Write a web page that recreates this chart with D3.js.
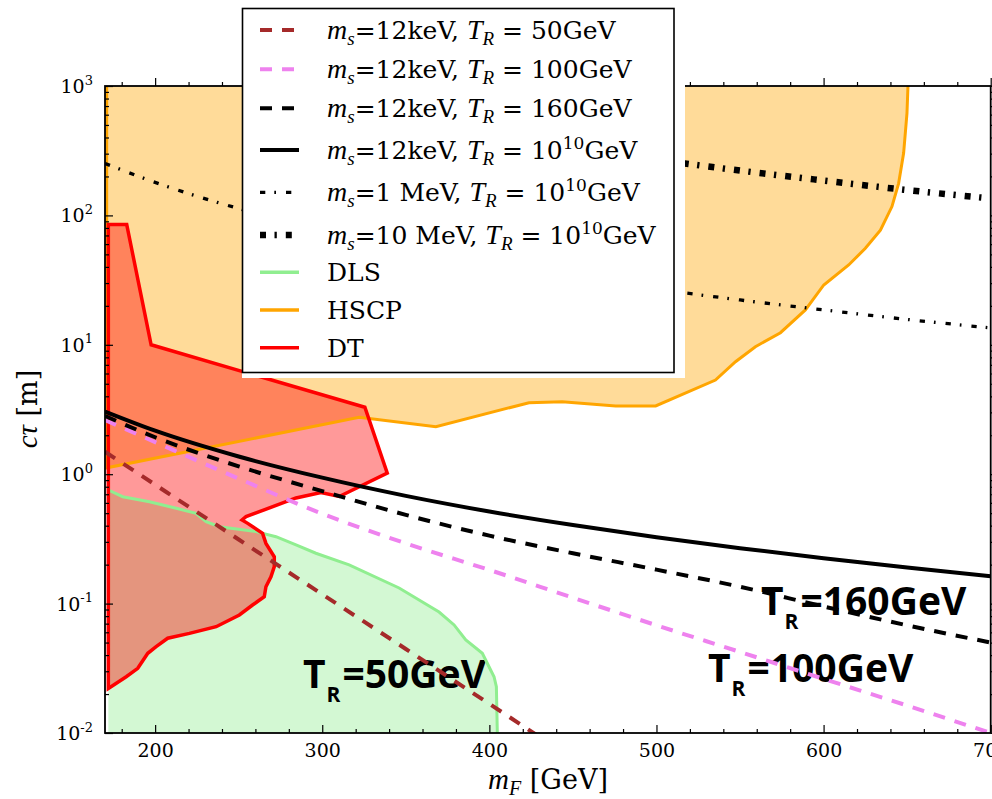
<!DOCTYPE html>
<html>
<head>
<meta charset="utf-8">
<script src="https://cdn.jsdelivr.net/npm/d3@7"></script>
<style>
  body { margin: 0; background: #ffffff; }
  svg { display: block; }
  text { white-space: pre; }
</style>
</head>
<body>
<svg id="chart" width="992" height="799"></svg>
<script>
// ---- data: lifetime c*tau [m] versus fermion mass m_F [GeV] ----
const massGrid = [170, 200, 250, 300, 350, 400, 450, 500, 550, 600, 650, 700];
const massGridTR50 = [170, 200, 250, 300, 350, 400, 450];

const ctau12keV_TR50   = [1.49, 0.83, 0.313, 0.118, 0.0446, 0.0168, 0.0063];
const ctau12keV_TR100  = [2.62, 1.77, 0.925, 0.495, 0.292, 0.182, 0.111, 0.068, 0.0423, 0.0262, 0.0163, 0.0100];
const ctau12keV_TR160  = [2.82, 1.93, 1.15, 0.74, 0.485, 0.335, 0.245, 0.183, 0.135, 0.095, 0.068, 0.050];
const ctau12keV_TR1e10 = [3.05, 2.17, 1.37, 0.94, 0.68, 0.515, 0.405, 0.326, 0.268, 0.224, 0.190, 0.163];
const ctau1MeV_TR1e10  = [252, 180, 113, 78, 56.6, 42.9, 33.6, 27.0, 22.2, 18.6, 15.7, 13.5];
const ctau10MeV_TR1e10 = [2520, 1800, 1130, 780, 566, 429, 336, 270, 222, 186, 157, 135];

// excluded regions: [m_F, c*tau] boundary points
const dlsBoundary = [[172, 0.755], [180.6, 0.67], [196.6, 0.612], [212.6, 0.545], [224.5, 0.499],
  [230.5, 0.43], [238.4, 0.393], [260.4, 0.36], [272.3, 0.329], [284.3, 0.284], [296.2, 0.245],
  [316.1, 0.199], [346, 0.132], [369.9, 0.0861], [378.9, 0.0684], [385.9, 0.0524], [395.8, 0.0413],
  [399.8, 0.0325], [402.8, 0.0272], [404.2, 0.0228], [404.8, 0.0095]];
const dlsFloor = [[172, 0.0095]];

const hscpBoundary = [[171, 1200], [650.5, 1200], [650.5, 1000], [649.9, 618], [647.9, 303], [644.9, 177],
  [640.9, 117], [634, 77], [625, 55.7], [615, 41.4], [600.1, 29], [589.1, 18.6], [574.2, 12.4],
  [559.2, 9.67], [547.3, 7.4], [535.3, 5.34], [499.5, 3.37], [475.6, 3.37], [443.6, 3.63],
  [423.7, 3.57], [368, 2.33], [322.1, 2.75], [171, 1.12]];

const dtBoundary = [[172, 85], [183, 85], [197.6, 10], [325.5, 3.29], [338.9, 1.02], [310.2, 0.673],
  [299.2, 0.72], [284.3, 0.655], [254.4, 0.47], [252, 0.443], [255.4, 0.417], [264.3, 0.349],
  [266.3, 0.292], [271.3, 0.23], [271.3, 0.193], [269.3, 0.161], [266.3, 0.135], [265.3, 0.113],
  [258.3, 0.0975], [250.4, 0.0817], [236.5, 0.0663], [220.5, 0.0589], [207.5, 0.054], [200.6, 0.0465],
  [195.6, 0.0413], [189.6, 0.0316], [182.7, 0.0272], [172, 0.0221]];

const xMajorTicks = [200, 300, 400, 500, 600, 700];
const xMinorTicks = d3.range(180, 701, 20).filter(v => v % 100 !== 0);
const yMajorTicks = [1e-2, 1e-1, 1e0, 1e1, 1e2, 1e3];
const yExponents = ["-2", "-1", "0", "1", "2", "3"];
const annotations = [
  { m: "T", s: "R", rest: "=50GeV",  mass: 290.1, px: 303, py: 688 },
  { m: "T", s: "R", rest: "=100GeV", mass: 532.2, px: 708, py: 682 },
  { m: "T", s: "R", rest: "=160GeV", mass: 563.8, px: 761, py: 615 }
];

// ---- layout ----
const plot = { left: 105, right: 990.7, top: 86, bottom: 733 };
const serif = "'DejaVu Serif', serif";
const mathIt = "'Liberation Serif', 'DejaVu Serif', serif";

const x = d3.scaleLinear().domain([170, 700]).range([plot.left, plot.right]);
const y = d3.scaleLog().domain([0.01, 1000]).range([plot.bottom, plot.top]);

const svg = d3.select("#chart");
svg.append("rect").attr("width", 992).attr("height", 799).attr("fill", "#fff");

svg.append("defs").append("clipPath").attr("id", "plotClip")
  .append("rect")
  .attr("x", plot.left).attr("y", plot.top)
  .attr("width", plot.right - plot.left).attr("height", plot.bottom - plot.top);

const layer = svg.append("g").attr("clip-path", "url(#plotClip)");

const poly = d3.line().x(d => x(d[0])).y(d => y(d[1]));
const smooth = d3.line().x(d => x(d[0])).y(d => y(d[1])).curve(d3.curveMonotoneX);

// filled regions (DLS, HSCP, DT)
layer.append("path").attr("d", poly(dlsBoundary.concat(dlsFloor)) + "Z")
  .attr("fill", "#90ee90").attr("fill-opacity", 0.4);
layer.append("path").attr("d", poly(hscpBoundary) + "Z")
  .attr("fill", "#ffa500").attr("fill-opacity", 0.4);
layer.append("path").attr("d", poly(dtBoundary) + "Z")
  .attr("fill", "#ff0000").attr("fill-opacity", 0.4);

// annotations
annotations.forEach(a => {
  const t = layer.append("text")
    .attr("x", a.px).attr("y", a.py)
    .attr("font-family", "'Open Sans', sans-serif").attr("font-weight", 700)
    .attr("font-size", 39).attr("fill", "#000");
  t.append("tspan").text(a.m);
  t.append("tspan").text(a.s).attr("font-size", 21).attr("dy", 14).attr("dx", 1);
  t.append("tspan").text(a.rest).attr("dy", -14).attr("dx", 2);
});

// region edges
layer.append("path").attr("d", poly(dlsBoundary))
  .attr("fill", "none").attr("stroke", "#90ee90").attr("stroke-width", 3);
layer.append("path").attr("d", poly(hscpBoundary) + "Z")
  .attr("fill", "none").attr("stroke", "#ffa500").attr("stroke-width", 3);
layer.append("path").attr("d", poly(dtBoundary) + "Z")
  .attr("fill", "none").attr("stroke", "#ff0000").attr("stroke-width", 3.5)
  .attr("stroke-linejoin", "miter");

// lifetime curves
const series = [
  { masses: massGridTR50, values: ctau12keV_TR50, color: "#a52a2a", width: 4, dash: "12,10",
    label: [["m", "it"], ["s", "itsub"], ["=12keV, "], ["T", "it"], ["R", "itsub"], [" = "], ["50GeV"]] },
  { masses: massGrid, values: ctau12keV_TR100, color: "#ee82ee", width: 4, dash: "12,10",
    label: [["m", "it"], ["s", "itsub"], ["=12keV, "], ["T", "it"], ["R", "itsub"], [" = "], ["100GeV"]] },
  { masses: massGrid, values: ctau12keV_TR160, color: "#000000", width: 4, dash: "12,10",
    label: [["m", "it"], ["s", "itsub"], ["=12keV, "], ["T", "it"], ["R", "itsub"], [" = "], ["160GeV"]] },
  { masses: massGrid, values: ctau12keV_TR1e10, color: "#000000", width: 4, dash: null,
    label: [["m", "it"], ["s", "itsub"], ["=12keV, "], ["T", "it"], ["R", "itsub"], [" = "], ["10"], ["10", "sup"], ["GeV"]] },
  { masses: massGrid, values: ctau1MeV_TR1e10, color: "#000000", width: 3.3, dash: "5.3,9,1.7,10",
    label: [["m", "it"], ["s", "itsub"], ["=1 MeV, "], ["T", "it"], ["R", "itsub"], [" = "], ["10"], ["10", "sup"], ["GeV"]] },
  { masses: massGrid, values: ctau10MeV_TR1e10, color: "#000000", width: 6.5, dash: "6,8.5,2.3,9",
    label: [["m", "it"], ["s", "itsub"], ["=10 MeV, "], ["T", "it"], ["R", "itsub"], [" = "], ["10"], ["10", "sup"], ["GeV"]] }
];

series.forEach(s => {
  const pts = s.masses.map((m, i) => [m, s.values[i]]);
  const p = layer.append("path").attr("d", smooth(pts))
    .attr("fill", "none").attr("stroke", s.color).attr("stroke-width", s.width);
  if (s.dash) p.attr("stroke-dasharray", s.dash);
});

// ---- axes (inward ticks on all four sides) ----
function inward(axis, size) { return axis.tickSizeInner(-size).tickSizeOuter(0); }

const gx = svg.append("g").attr("transform", `translate(0,${plot.bottom})`)
  .call(inward(d3.axisBottom(x).tickValues(xMajorTicks).tickFormat(d3.format("d")), 8).tickPadding(11));
svg.append("g").attr("transform", `translate(0,${plot.bottom})`)
  .call(inward(d3.axisBottom(x).tickValues(xMinorTicks).tickFormat(""), 4));
svg.append("g").attr("transform", `translate(0,${plot.top})`)
  .call(inward(d3.axisTop(x).tickValues(xMajorTicks).tickFormat(""), -8));
svg.append("g").attr("transform", `translate(0,${plot.top})`)
  .call(inward(d3.axisTop(x).tickValues(xMinorTicks).tickFormat(""), -4));

const yMinorTicks = [];
for (let e = -2; e < 3; e++) for (let k = 2; k <= 9; k++) yMinorTicks.push(k * Math.pow(10, e));

svg.append("g").attr("transform", `translate(${plot.left},0)`)
  .call(inward(d3.axisLeft(y).tickValues(yMajorTicks).tickFormat(""), 8));
svg.append("g").attr("transform", `translate(${plot.left},0)`)
  .call(inward(d3.axisLeft(y).tickValues(yMinorTicks).tickFormat(""), 4));
svg.append("g").attr("transform", `translate(${plot.right},0)`)
  .call(inward(d3.axisRight(y).tickValues(yMajorTicks).tickFormat(""), -8));
svg.append("g").attr("transform", `translate(${plot.right},0)`)
  .call(inward(d3.axisRight(y).tickValues(yMinorTicks).tickFormat(""), -4));

// top/right axes: flip tick direction so they point into the plot
svg.selectAll("g").each(function () {});
svg.selectAll(".domain").remove();
svg.selectAll(".tick line").attr("stroke", "#000").attr("stroke-width", 1.2);

gx.selectAll("text").attr("font-family", serif).attr("font-size", 19).attr("fill", "#000");

// y tick labels as powers of ten
yMajorTicks.forEach((v, i) => {
  const t = svg.append("text").attr("x", plot.left - 12).attr("y", y(v) + 7)
    .attr("text-anchor", "end").attr("font-family", serif).attr("font-size", 19).attr("fill", "#000");
  t.append("tspan").text("10");
  t.append("tspan").text(yExponents[i]).attr("font-size", 13).attr("dy", -8.5);
});

// frame
svg.append("rect")
  .attr("x", plot.left).attr("y", plot.top)
  .attr("width", plot.right - plot.left).attr("height", plot.bottom - plot.top)
  .attr("fill", "none").attr("stroke", "#000").attr("stroke-width", 1.8);

// axis titles
const xt = svg.append("text").attr("x", 548).attr("y", 789).attr("text-anchor", "middle")
  .attr("font-family", serif).attr("font-size", 27).attr("fill", "#000");
xt.append("tspan").text("m").attr("font-family", mathIt).attr("font-style", "italic").attr("font-size", 29);
xt.append("tspan").text("F").attr("font-family", mathIt).attr("font-style", "italic").attr("font-size", 20).attr("dy", 6);
xt.append("tspan").text(" [GeV]").attr("dy", -6);

const yt = svg.append("text").attr("transform", "translate(37,409) rotate(-90)")
  .attr("text-anchor", "middle").attr("font-family", serif).attr("font-size", 27).attr("fill", "#000");
yt.append("tspan").text("cτ").attr("font-family", mathIt).attr("font-style", "italic").attr("font-size", 29);
yt.append("tspan").text(" [m]");

// ---- legend ----
const legendEntries = series.map(s => ({ kind: "line", color: s.color, width: s.width, dash: s.dash, label: s.label }))
  .concat([
    { kind: "line", color: "#90ee90", width: 3.5, dash: null, label: [["DLS"]] },
    { kind: "line", color: "#ffa500", width: 3.5, dash: null, label: [["HSCP"]] },
    { kind: "line", color: "#ff0000", width: 3.5, dash: null, label: [["DT"]] }
  ]);
const legendRowY = [30, 69.3, 108.3, 150, 192.3, 235, 272.3, 310, 347.7];

const lg = svg.append("g");
lg.append("rect").attr("x", 242).attr("y", 8).attr("width", 443).attr("height", 370).attr("fill", "#fff");
lg.append("rect").attr("x", 242.5).attr("y", 8.5).attr("width", 431.5).attr("height", 364)
  .attr("fill", "#fff").attr("stroke", "#000").attr("stroke-width", 1.6);

legendEntries.forEach((e, i) => {
  const ly = legendRowY[i];
  const l = lg.append("line").attr("x1", 260).attr("x2", 299).attr("y1", ly).attr("y2", ly)
    .attr("stroke", e.color).attr("stroke-width", e.width);
  if (e.dash) l.attr("stroke-dasharray", e.dash);
  const t = lg.append("text").attr("x", 327).attr("y", ly + 9)
    .attr("font-family", serif).attr("font-size", 25).attr("fill", "#000");
  let shift = 0;
  e.label.forEach(([str, kind]) => {
    const ts = t.append("tspan").text(str);
    let target = 0;
    if (kind === "it") { ts.attr("font-family", mathIt).attr("font-style", "italic").attr("font-size", 28); }
    if (kind === "itsub") { ts.attr("font-family", mathIt).attr("font-style", "italic").attr("font-size", 19); target = 6; }
    if (kind === "sup") { ts.attr("font-size", 17); target = -10; }
    ts.attr("dy", target - shift);
    shift = target;
  });
});
</script>
</body>
</html>
